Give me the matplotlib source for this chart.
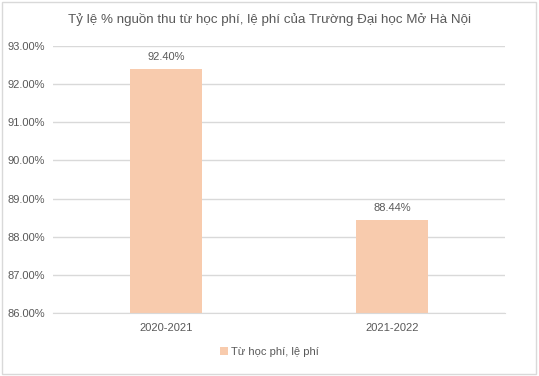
import matplotlib.pyplot as plt
from matplotlib.patches import Rectangle
from matplotlib.ticker import FuncFormatter

years = ["2020-2021", "2021-2022"]
values = [92.40, 88.44]
series_name = "Từ học phí, lệ phí"
title = "Tỷ lệ % nguồn thu từ học phí, lệ phí của Trường Đại học Mở Hà Nội"

BAR = "#F8CBAD"
TXT = "#595959"
GRID = "#D9D9D9"

plt.rcParams["font.family"] = ["Liberation Sans", "DejaVu Sans"]

fig = plt.figure(figsize=(5.39, 3.76), dpi=100)
fig.patches.append(Rectangle((0.004, 0.005), 0.991, 0.99, transform=fig.transFigure,
                             fill=False, edgecolor="#D9D9D9", linewidth=1))

ax = fig.add_axes([53 / 539, 1 - 313 / 376, 452 / 539, 267 / 376])
x = range(len(years))
bars = ax.bar(x, values, width=0.315, color=BAR, label=series_name, zorder=2)
ax.set_ylim(86, 93)
ax.set_xlim(-0.5, 1.5)
ax.set_yticks([86, 87, 88, 89, 90, 91, 92, 93])
ax.yaxis.set_major_formatter(FuncFormatter(lambda v, p: f"{v:.2f}%"))
ax.set_xticks(list(x))
ax.set_xticklabels(years)
ax.grid(axis="y", color=GRID, linewidth=1, zorder=0)
for s in ax.spines.values():
    s.set_visible(False)
ax.spines["bottom"].set_visible(True)
ax.spines["bottom"].set_color(GRID)
ax.tick_params(length=0, colors=TXT, labelsize=8)
ax.tick_params(axis="x", pad=7)
ax.tick_params(axis="y", pad=6)

for b, v in zip(bars, values):
    ax.annotate(f"{v:.2f}%", (b.get_x() + b.get_width() / 2, v), xytext=(0, 5),
                textcoords="offset points", ha="center", va="bottom",
                color=TXT, fontsize=8)

fig.text(0.5, 1 - 19 / 376, title, ha="center", va="center", color=TXT, fontsize=9.6)
fig.legend(loc="center", bbox_to_anchor=(0.5, 1 - 352 / 376), frameon=False,
           fontsize=8, labelcolor=TXT, handlelength=0.7, handleheight=0.7,
           handletextpad=0.3)

fig.savefig("out.png", dpi=100)
